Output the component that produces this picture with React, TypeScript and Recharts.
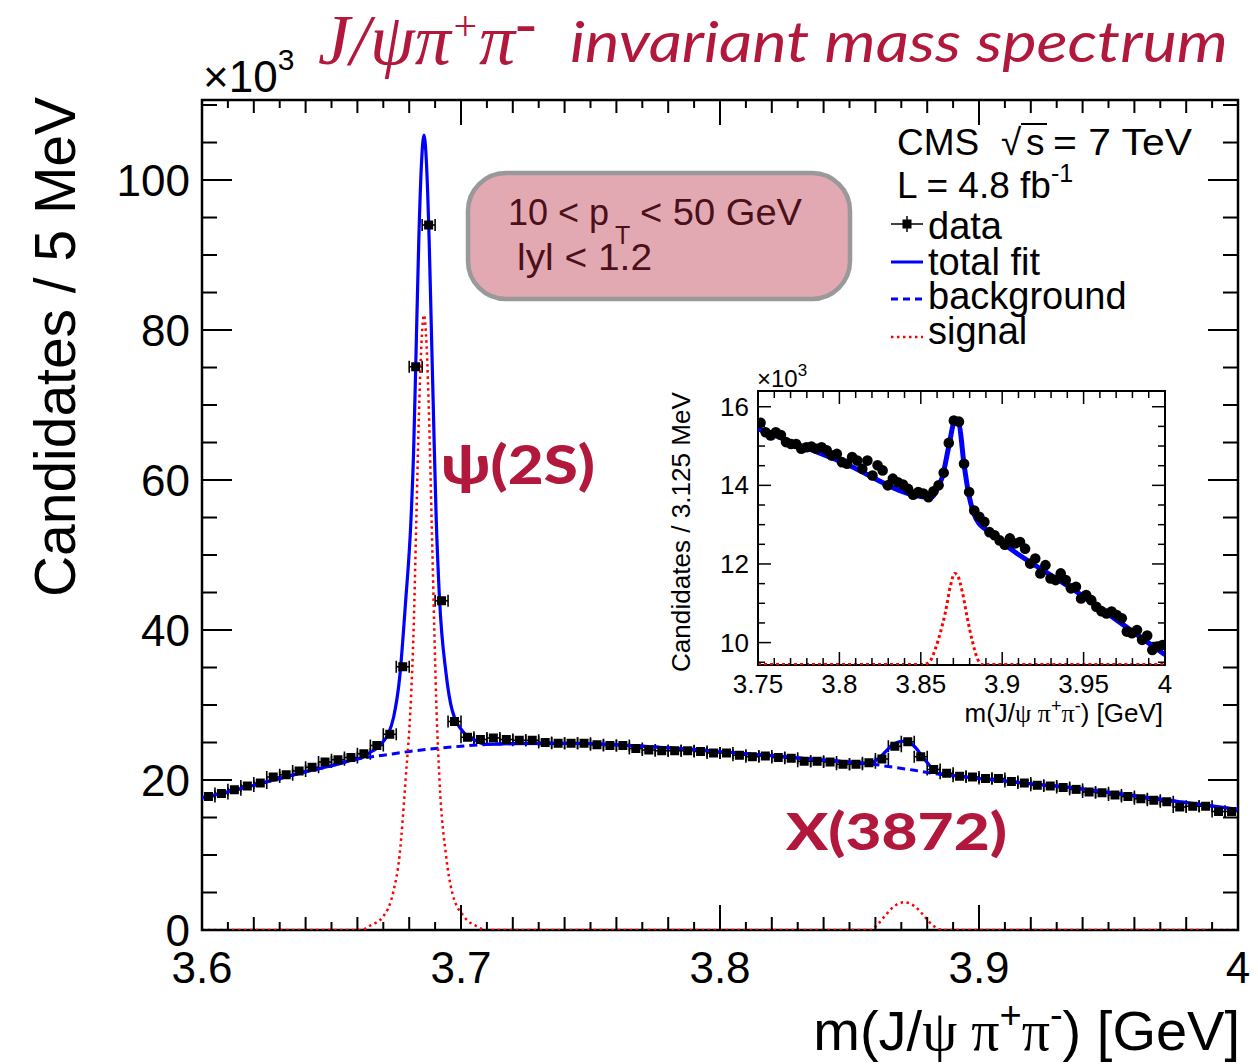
import React from 'react';
import { ComposedChart, Line, Scatter, XAxis, YAxis, ReferenceArea, ErrorBar } from 'recharts';

// ---------------- main histogram (5 MeV bins, values in 10^3 candidates) ----------------
const MAIN_MASS = [
  3.6025, 3.6075, 3.6125, 3.6175, 3.6225, 3.6275, 3.6325, 3.6375, 3.6425, 3.6475,
  3.6525, 3.6575, 3.6625, 3.6675, 3.6725, 3.6775, 3.6825, 3.6875, 3.6925, 3.6975,
  3.7025, 3.7075, 3.7125, 3.7175, 3.7225, 3.7275, 3.7325, 3.7375, 3.7425, 3.7475,
  3.7525, 3.7575, 3.7625, 3.7675, 3.7725, 3.7775, 3.7825, 3.7875, 3.7925, 3.7975,
  3.8025, 3.8075, 3.8125, 3.8175, 3.8225, 3.8275, 3.8325, 3.8375, 3.8425, 3.8475,
  3.8525, 3.8575, 3.8625, 3.8675, 3.8725, 3.8775, 3.8825, 3.8875, 3.8925, 3.8975,
  3.9025, 3.9075, 3.9125, 3.9175, 3.9225, 3.9275, 3.9325, 3.9375, 3.9425, 3.9475,
  3.9525, 3.9575, 3.9625, 3.9675, 3.9725, 3.9775, 3.9825, 3.9875, 3.9925, 3.9975,
];
const MAIN_COUNTS = [
  17.8, 18.2, 18.7, 19.2, 19.6, 20.4, 20.7, 21.2, 21.7, 22.4,
  22.7, 23.0, 23.5, 24.6, 26.1, 35.1, 75.1, 94.0, 43.9, 27.8,
  25.7, 25.4, 25.6, 25.4, 25.3, 25.3, 25.0, 24.9, 24.9, 24.9,
  24.7, 24.6, 24.6, 24.2, 24.0, 23.9, 23.9, 23.9, 23.8, 23.6,
  23.6, 23.3, 23.1, 23.2, 23.0, 22.9, 22.5, 22.5, 22.4, 22.1,
  22.1, 22.3, 22.8, 24.5, 25.1, 23.1, 21.4, 20.9, 20.5, 20.4,
  20.2, 20.2, 19.8, 19.6, 19.3, 19.2, 19.0, 18.75, 18.4, 18.3,
  18.0, 17.8, 17.5, 17.3, 17.1, 16.4, 16.5, 16.5, 15.8, 15.8,
];
const MAIN_BIN_HALF_WIDTH = 0.0025;

const FIT_MASS = [
  3.6, 3.62, 3.64, 3.65, 3.66, 3.6614, 3.665, 3.667, 3.6697, 3.672, 3.674, 3.6763, 3.6786,
  3.6807, 3.6817, 3.6827, 3.6837, 3.6847, 3.6857, 3.6867, 3.6877, 3.6887, 3.6897, 3.6904,
  3.6917, 3.6942, 3.6966, 3.7014, 3.706, 3.7097, 3.72, 3.74, 3.76, 3.78, 3.8, 3.82, 3.84,
  3.85, 3.857, 3.861, 3.864, 3.867, 3.8712, 3.875, 3.878, 3.881, 3.884, 3.887, 3.89, 3.9,
  3.92, 3.94, 3.96, 3.98, 4.0,
];
const FIT_VALUES = [
  17.6, 19.3, 21.1, 21.9, 22.8, 22.9, 23.7, 24.1, 25.0, 26.2, 28.4, 33.6, 43.7,
  54.8, 63.8, 77.8, 91.9, 101.9, 106.0, 102.0, 92.0, 78.1, 64.2, 55.2,
  44.2, 34.3, 29.3, 26.2, 25.2, 24.75, 24.85, 24.9, 24.7, 24.3, 23.8, 23.25, 22.65,
  22.4, 22.2, 22.8, 23.8, 24.8, 25.2, 24.5, 23.2, 21.9, 20.9, 20.7, 20.6, 20.2,
  19.5, 18.8, 17.9, 17.0, 16.1,
];

const BKG_MASS = [
  3.6, 3.61, 3.62, 3.63, 3.64, 3.65, 3.66, 3.67, 3.68, 3.69, 3.7, 3.71, 3.72, 3.73, 3.74,
  3.75, 3.76, 3.77, 3.78, 3.79, 3.8, 3.81, 3.82, 3.83, 3.84, 3.85, 3.857, 3.865, 3.875,
  3.883, 3.89, 3.9, 3.91, 3.92, 3.93, 3.94, 3.95, 3.96, 3.97, 3.98, 3.99, 4.0,
];
const BKG_VALUES = [
  17.6, 18.4, 19.3, 20.2, 21.1, 21.9, 22.8, 23.3, 23.8, 24.2, 24.5, 24.75, 24.85, 24.9, 24.9,
  24.85, 24.7, 24.5, 24.3, 24.1, 23.8, 23.5, 23.25, 22.95, 22.65, 22.4, 22.2, 21.8, 21.3,
  20.85, 20.6, 20.2, 19.9, 19.5, 19.2, 18.8, 18.3, 17.9, 17.4, 17.0, 16.5, 16.1,
];

const SIG_MASS = [
  3.6, 3.6614, 3.665, 3.6697, 3.6738, 3.6763, 3.6786, 3.6807, 3.6817, 3.6827, 3.6837,
  3.6847, 3.6857, 3.6867, 3.6877, 3.6887, 3.6897, 3.6904, 3.6917, 3.6942, 3.6966, 3.7014,
  3.706, 3.7097, 3.858, 3.861, 3.864, 3.867, 3.8712, 3.875, 3.878, 3.881, 3.884, 3.886, 4.0,
];
const SIG_VALUES = [
  0, 0, 0.6, 1.7, 5, 10, 20, 31, 40, 54, 68,
  78, 82, 78, 68, 54, 40, 31, 20, 10, 5, 1.7,
  0.5, 0, 0, 0.8, 2.0, 3.1, 3.7, 3.2, 2.2, 1.0, 0.2, 0, 0,
];

const MAIN_X_LABELS = ['3.6', '3.7', '3.8', '3.9', '4'];
const MAIN_Y_LABELS = ['0', '20', '40', '60', '80', '100'];
const MAIN_Y_MAX = 110.67;

// ---------------- inset histogram (3.125 MeV bins) ----------------
const INSET_MASS = [
  3.75156, 3.75469, 3.75781, 3.76094, 3.76406, 3.76719, 3.77031, 3.77344, 3.77656, 3.77969,
  3.78281, 3.78594, 3.78906, 3.79219, 3.79531, 3.79844, 3.80156, 3.80469, 3.80781, 3.81094,
  3.81406, 3.81719, 3.82031, 3.82344, 3.82656, 3.82969, 3.83281, 3.83594, 3.83906, 3.84219,
  3.84531, 3.84844, 3.85156, 3.85469, 3.85781, 3.86094, 3.86406, 3.86719, 3.87031, 3.87344,
  3.87656, 3.87969, 3.88281, 3.88594, 3.88906, 3.89219, 3.89531, 3.89844, 3.90156, 3.90469,
  3.90781, 3.91094, 3.91406, 3.91719, 3.92031, 3.92344, 3.92656, 3.92969, 3.93281, 3.93594,
  3.93906, 3.94219, 3.94531, 3.94844, 3.95156, 3.95469, 3.95781, 3.96094, 3.96406, 3.96719,
  3.97031, 3.97344, 3.97656, 3.97969, 3.98281, 3.98594, 3.98906, 3.99219, 3.99531, 3.99844,
];
const INSET_COUNTS = [
  15.59, 15.35, 15.27, 15.35, 15.28, 15.10, 15.05, 15.05, 14.93, 14.97,
  14.99, 14.93, 14.97, 14.89, 14.76, 14.80, 14.59, 14.55, 14.72, 14.63,
  14.42, 14.63, 14.25, 14.51, 14.38, 14.00, 14.17, 14.08, 14.02, 13.91,
  13.76, 13.83, 13.79, 13.70, 13.85, 14.00, 14.32, 15.08, 15.65, 15.62,
  14.55, 13.83, 13.36, 13.20, 13.07, 12.81, 12.73, 12.60, 12.49, 12.65,
  12.52, 12.56, 12.39, 12.01, 12.14, 11.76, 11.97, 11.63, 11.59, 11.76,
  11.59, 11.38, 11.42, 11.12, 11.21, 11.08, 10.91, 10.80, 10.74, 10.79,
  10.70, 10.62, 10.28, 10.24, 10.32, 10.07, 10.18, 9.81, 9.90, 9.94,
];
const INSET_FIT_MASS = [
  3.75, 3.8, 3.855, 3.8575, 3.8591, 3.8632, 3.8673, 3.8708, 3.8734, 3.8765, 3.8796,
  3.8826, 3.8857, 3.8898, 3.95, 4.0,
];
const INSET_FIT_VALUES = [
  15.44, 14.62, 13.7, 13.72, 13.85, 14.21, 15.01, 15.62, 15.56, 14.55, 13.74,
  13.28, 13.03, 12.88, 11.17, 9.69,
];
const INSET_SIG_MASS = [
  3.75, 3.8519, 3.856, 3.8591, 3.8622, 3.8652, 3.8683, 3.8708, 3.8724, 3.8755, 3.8786,
  3.8817, 3.8847, 3.8878, 4.0,
];
const INSET_SIG_VALUES = [
  9.44, 9.44, 9.55, 9.86, 10.28, 10.79, 11.46, 11.76, 11.72, 11.29, 10.62,
  10.03, 9.6, 9.44, 9.44,
];
const INSET_X_LABELS = ['3.75', '3.8', '3.85', '3.9', '3.95', '4'];
const INSET_Y_LABELS = ['10', '12', '14', '16'];
const INSET_Y_MIN = 9.43;
const INSET_Y_MAX = 16.4;

// ---------------- styling ----------------
const CRIMSON = '#B1183B';
const FONT = '"Liberation Sans", Arial, Helvetica, sans-serif';
const SERIF = '"Liberation Serif", "Times New Roman", serif';
const HUMANIST = 'Lato, "Open Sans", sans-serif';
const BLUE = '#0000FF';
const RED = '#FF0000';

const MAIN_PLOT_W = 1036;
const MAIN_PLOT_H = 830;
const INSET_PLOT_W = 407;
const INSET_PLOT_H = 274;

const mainPoints = MAIN_MASS.map((m, i) => ({ m, v: MAIN_COUNTS[i], ex: MAIN_BIN_HALF_WIDTH }));
const fitData = FIT_MASS.map((m, i) => ({ m, v: FIT_VALUES[i] }));
const bkgData = BKG_MASS.map((m, i) => ({ m, v: BKG_VALUES[i] }));
const sigData = SIG_MASS.map((m, i) => ({ m, v: SIG_VALUES[i] }));
const insetPoints = INSET_MASS.map((m, i) => ({ m, v: INSET_COUNTS[i] }));
const insetFit = INSET_FIT_MASS.map((m, i) => ({ m, v: INSET_FIT_VALUES[i] }));
const insetSig = INSET_SIG_MASS.map((m, i) => ({ m, v: INSET_SIG_VALUES[i] }));

const MAIN_X_TICKS = Array.from({ length: 41 }, (_, i) => Math.round((3.6 + i * 0.01) * 1000) / 1000);
const MAIN_Y_TICKS = Array.from({ length: 23 }, (_, i) => i * 5);
const INSET_X_TICKS = Array.from({ length: 26 }, (_, i) => Math.round((3.75 + i * 0.01) * 1000) / 1000);
const INSET_Y_TICKS = Array.from({ length: 14 }, (_, i) => 9.5 + i * 0.5);

function MainXTick(props: any) {
  const { x, y, payload } = props;
  const step = Math.round((payload.value - 3.6) * 100);
  const major = step % 10 === 0;
  const len = major ? 25 : step % 2 === 0 ? 13 : 8;
  return (
    <g>
      <line x1={x} x2={x} y1={y} y2={y - len} stroke="#000" strokeWidth={2} />
      <line x1={x} x2={x} y1={y - MAIN_PLOT_H} y2={y - MAIN_PLOT_H + len} stroke="#000" strokeWidth={2} />
      {major && (
        <text x={x} y={y + 53} textAnchor="middle" fontSize={44} fontFamily={FONT} fill="#000">
          {MAIN_X_LABELS[step / 10]}
        </text>
      )}
    </g>
  );
}

function MainYTick(props: any) {
  const { x, y, payload } = props;
  const v = Math.round(payload.value);
  const major = v % 20 === 0;
  const len = major ? 30 : 15;
  return (
    <g>
      <line x1={x} x2={x + len} y1={y} y2={y} stroke="#000" strokeWidth={2} />
      <line x1={x + MAIN_PLOT_W} x2={x + MAIN_PLOT_W - len} y1={y} y2={y} stroke="#000" strokeWidth={2} />
      {major && (
        <text x={x - 12} y={y + 16} textAnchor="end" fontSize={44} fontFamily={FONT} fill="#000">
          {MAIN_Y_LABELS[v / 20]}
        </text>
      )}
    </g>
  );
}

function InsetXTick(props: any) {
  const { x, y, payload } = props;
  const step = Math.round((payload.value - 3.75) * 100);
  const major = step % 5 === 0;
  const len = major ? 13 : 7;
  return (
    <g>
      <line x1={x} x2={x} y1={y} y2={y - len} stroke="#000" strokeWidth={1.5} />
      <line x1={x} x2={x} y1={y - INSET_PLOT_H} y2={y - INSET_PLOT_H + len} stroke="#000" strokeWidth={1.5} />
      {major && (
        <text x={x} y={y + 28} textAnchor="middle" fontSize={26} fontFamily={FONT} fill="#000">
          {INSET_X_LABELS[step / 5]}
        </text>
      )}
    </g>
  );
}

function InsetYTick(props: any) {
  const { x, y, payload } = props;
  const half = Math.round(payload.value * 2);
  const major = half % 4 === 0;
  const len = major ? 13 : 7;
  return (
    <g>
      <line x1={x} x2={x + len} y1={y} y2={y} stroke="#000" strokeWidth={1.5} />
      <line x1={x + INSET_PLOT_W} x2={x + INSET_PLOT_W - len} y1={y} y2={y} stroke="#000" strokeWidth={1.5} />
      {major && (
        <text x={x - 9} y={y + 9} textAnchor="end" fontSize={26} fontFamily={FONT} fill="#000">
          {INSET_Y_LABELS[(half - 20) / 4]}
        </text>
      )}
    </g>
  );
}

const squareShape = (p: any) => <rect x={p.cx - 4.5} y={p.cy - 4.5} width={9} height={9} fill="#000" />;
const dotShape = (p: any) => <circle cx={p.cx} cy={p.cy} r={5.3} fill="#000" />;

export default function App() {
  return (
    <div style={{ position: 'absolute', left: 0, top: 0, width: 1258, height: 1064, background: '#fff', overflow: 'hidden' }}>
      <div style={{ position: 'absolute', left: 0, top: 0 }}>
        <ComposedChart width={1258} height={1064} margin={{ top: 100, right: 20, bottom: 104, left: 0 }}>
          <XAxis
            type="number"
            dataKey="m"
            domain={[3.6, 4.0]}
            allowDataOverflow
            ticks={MAIN_X_TICKS}
            interval={0}
            tickSize={0}
            tickMargin={0}
            tickLine={false}
            axisLine={false}
            height={30}
            tick={(p: any) => <MainXTick {...p} />}
          />
          <YAxis
            type="number"
            dataKey="v"
            domain={[0, MAIN_Y_MAX]}
            allowDataOverflow
            ticks={MAIN_Y_TICKS}
            interval={0}
            tickSize={0}
            tickMargin={0}
            tickLine={false}
            axisLine={false}
            width={202}
            tick={(p: any) => <MainYTick {...p} />}
          />
          <ReferenceArea x1={3.6} x2={4.0} y1={0} y2={MAIN_Y_MAX} fill="none" fillOpacity={0} stroke="#000" strokeWidth={2.5} ifOverflow="visible" />
          <Scatter data={mainPoints} shape={squareShape} isAnimationActive={false}>
            <ErrorBar dataKey="ex" direction="x" width={6} stroke="#000" strokeWidth={1.6} />
          </Scatter>
          <Line data={bkgData} dataKey="v" type="monotone" stroke={BLUE} strokeWidth={3} strokeDasharray="8 5" dot={false} activeDot={false} isAnimationActive={false} />
          <Line data={fitData} dataKey="v" type="monotone" stroke={BLUE} strokeWidth={3.2} dot={false} activeDot={false} isAnimationActive={false} />
          <Line data={sigData} dataKey="v" type="monotone" stroke={RED} strokeWidth={2.5} strokeDasharray="2.5 3.5" dot={false} activeDot={false} isAnimationActive={false} />
        </ComposedChart>
      </div>

      <div style={{ position: 'absolute', left: 660, top: 360 }}>
        <ComposedChart width={520} height={370} margin={{ top: 31, right: 15, bottom: 35, left: 0 }}>
          <XAxis
            type="number"
            dataKey="m"
            domain={[3.75, 4.0]}
            allowDataOverflow
            ticks={INSET_X_TICKS}
            interval={0}
            tickSize={0}
            tickMargin={0}
            tickLine={false}
            axisLine={false}
            height={30}
            tick={(p: any) => <InsetXTick {...p} />}
          />
          <YAxis
            type="number"
            dataKey="v"
            domain={[INSET_Y_MIN, INSET_Y_MAX]}
            allowDataOverflow
            ticks={INSET_Y_TICKS}
            interval={0}
            tickSize={0}
            tickMargin={0}
            tickLine={false}
            axisLine={false}
            width={98}
            tick={(p: any) => <InsetYTick {...p} />}
          />
          <ReferenceArea x1={3.75} x2={4.0} y1={INSET_Y_MIN} y2={INSET_Y_MAX} fill="none" fillOpacity={0} stroke="#000" strokeWidth={2} ifOverflow="visible" />
          <Scatter data={insetPoints} shape={dotShape} isAnimationActive={false} />
          <Line data={insetFit} dataKey="v" type="monotone" stroke={BLUE} strokeWidth={5} dot={false} activeDot={false} isAnimationActive={false} />
          <Line data={insetSig} dataKey="v" type="monotone" stroke={RED} strokeWidth={3} strokeDasharray="3 3" dot={false} activeDot={false} isAnimationActive={false} />
        </ComposedChart>
      </div>

      <svg width={1258} height={1064} style={{ position: 'absolute', left: 0, top: 0, pointerEvents: 'none' }}>
        {/* title */}
        <text x={318} y={64} fill={CRIMSON} fontFamily={SERIF} fontStyle="italic" fontSize={72}>
          J/ψπ<tspan fontSize={42} dy={-24}>+</tspan>
          <tspan fontSize={72} dy={24}>π</tspan>
          <tspan fontSize={64} dy={-20}>-</tspan>
        </text>
        <text x={570} y={62} fill={CRIMSON} fontFamily={HUMANIST} fontStyle="italic" fontSize={56} textLength={658} lengthAdjust="spacingAndGlyphs">
          invariant mass spectrum
        </text>

        {/* main axis decorations */}
        <text x={203} y={92} fontFamily={FONT} fontSize={44} fill="#000">
          ×10<tspan fontSize={30} dy={-22}>3</tspan>
        </text>
        <text transform="translate(75,347) rotate(-90)" textAnchor="middle" fontFamily={FONT} fontSize={58} fill="#000" textLength={500} lengthAdjust="spacingAndGlyphs">
          Candidates / 5 MeV
        </text>
        <text x={1240} y={1050} textAnchor="end" fontFamily={FONT} fontSize={56} fill="#000">
          m(J/<tspan fontFamily={SERIF}>ψ π</tspan>
          <tspan fontSize={38} dy={-22}>+</tspan>
          <tspan fontFamily={SERIF} dy={22}>π</tspan>
          <tspan fontSize={38} dy={-22}>-</tspan>
          <tspan dy={22}>) [GeV]</tspan>
        </text>

        {/* legend */}
        <text x={897} y={155} fontFamily={FONT} fontSize={37} fill="#000">CMS</text>
        <text x={1001} y={155} fontFamily={FONT} fontSize={37} fill="#000">√</text>
        <line x1={1021} x2={1047} y1={124} y2={124} stroke="#000" strokeWidth={2} />
        <text x={1026} y={155} fontFamily={FONT} fontSize={37} fill="#000">s</text>
        <text x={1053} y={155} fontFamily={FONT} fontSize={37} fill="#000" textLength={139} lengthAdjust="spacingAndGlyphs">= 7 TeV</text>
        <text x={897} y={198} fontFamily={FONT} fontSize={37} fill="#000">
          L = 4.8 fb<tspan fontSize={25} dy={-16}>-1</tspan>
        </text>

        <line x1={891} x2={923} y1={224} y2={224} stroke="#000" strokeWidth={1.5} />
        <line x1={907} x2={907} y1={216} y2={232} stroke="#000" strokeWidth={1.5} />
        <rect x={902.5} y={219.5} width={9} height={9} fill="#000" />
        <text x={928} y={239} fontFamily={FONT} fontSize={38} fill="#000">data</text>

        <line x1={891} x2={923} y1={262} y2={262} stroke={BLUE} strokeWidth={3} />
        <text x={928} y={275} fontFamily={FONT} fontSize={38} fill="#000">total fit</text>

        <line x1={891} x2={923} y1={299} y2={299} stroke={BLUE} strokeWidth={3} strokeDasharray="7 5" />
        <text x={928} y={309} fontFamily={FONT} fontSize={38} fill="#000">background</text>

        <line x1={891} x2={923} y1={337} y2={337} stroke={RED} strokeWidth={2.5} strokeDasharray="2.5 3.5" />
        <text x={928} y={344} fontFamily={FONT} fontSize={38} fill="#000">signal</text>

        {/* kinematic selection box */}
        <rect x={468} y={173} width={382} height={126} rx={38} ry={38} fill="#E3A9B3" stroke="#999999" strokeWidth={4.5} />
        <text x={508} y={225} fontFamily={FONT} fontSize={36} fill="#4B1019">10 &lt; p</text>
        <text x={615} y={244} fontFamily={FONT} fontSize={25} fill="#4B1019">T</text>
        <text x={640} y={225} fontFamily={FONT} fontSize={36} fill="#4B1019" textLength={162} lengthAdjust="spacingAndGlyphs">&lt; 50 GeV</text>
        <text x={517} y={270} fontFamily={FONT} fontSize={36} fill="#4B1019" textLength={135} lengthAdjust="spacingAndGlyphs">lyl &lt; 1.2</text>

        {/* peak labels */}
        <text x={441} y={484} fontFamily={HUMANIST} fontWeight={900} fontSize={54} fill={CRIMSON} textLength={154} lengthAdjust="spacingAndGlyphs">ψ(2S)</text>
        <text x={786} y={850} fontFamily={HUMANIST} fontWeight={900} fontSize={52} fill={CRIMSON} textLength={221} lengthAdjust="spacingAndGlyphs">X(3872)</text>

        {/* inset decorations */}
        <text x={757} y={387} fontFamily={FONT} fontSize={24} fill="#000">
          ×10<tspan fontSize={17} dy={-11}>3</tspan>
        </text>
        <text transform="translate(690,532) rotate(-90)" textAnchor="middle" fontFamily={FONT} fontSize={25} fill="#000" textLength={280} lengthAdjust="spacingAndGlyphs">
          Candidates / 3.125 MeV
        </text>
        <text x={1163} y={722} textAnchor="end" fontFamily={FONT} fontSize={26} fill="#000">
          m(J/<tspan fontFamily={SERIF}>ψ π</tspan>
          <tspan fontSize={18} dy={-10}>+</tspan>
          <tspan fontFamily={SERIF} dy={10}>π</tspan>
          <tspan fontSize={18} dy={-10}>-</tspan>
          <tspan dy={10}>) [GeV]</tspan>
        </text>
      </svg>
    </div>
  );
}
